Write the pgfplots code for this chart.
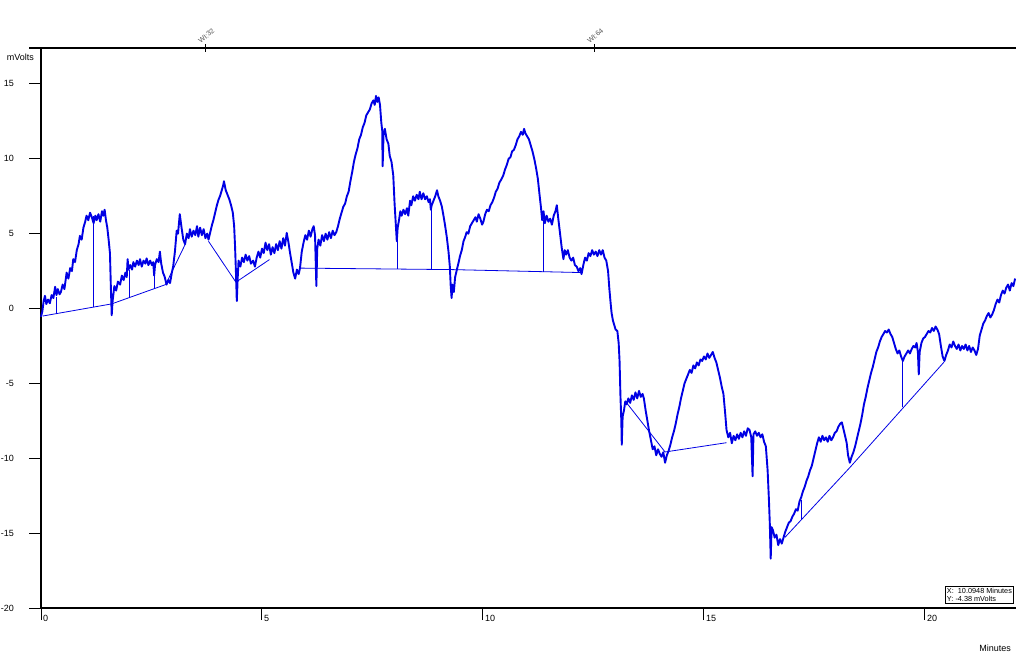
\documentclass[border=0pt]{standalone}
\usepackage{pgfplots}
\pgfplotsset{compat=1.18}
\usepackage{fontspec}
\setmainfont{Liberation Sans}
\definecolor{sig}{RGB}{0,0,228}
\definecolor{lbl}{RGB}{80,80,80}
\begin{document}
\begin{tikzpicture}
\path[use as bounding box] (0,0) rectangle (1016pt,656pt);
\begin{axis}[
  at={(41pt,48pt)}, anchor=south west,
  scale only axis, width=975pt, height=560pt,
  xmin=0, xmax=22.06, ymin=-20, ymax=17.4,
  clip=false,
  axis line style={draw=none},
  xtick={0,5,10,15,20}, ytick={-20,-15,-10,-5,0,5,10,15},
  extra x ticks={22.06}, extra x tick labels={},
  xtick pos=bottom, ytick pos=left,
  tick align=outside, major tick length=12pt,
  tick style={black, line width=1pt},
  minor tick num=0,
  /pgf/number format/assume math mode=true,
  ticklabel style={font=\fontsize{9}{10}\selectfont},
  xticklabel style={anchor=north west, inner sep=0pt, xshift=2pt, yshift=5pt},
  yticklabel style={anchor=east, inner sep=0pt, xshift=-15pt},
]
% axis frame
\draw[line width=1.2pt] (axis cs:0,-20) -- (axis cs:0,17.4);
\draw[line width=1.2pt] (axis cs:0,-20) -- (axis cs:22.06,-20);
\draw[line width=1.2pt] ([xshift=-12pt]axis cs:0,17.4) -- (axis cs:22.06,17.4);
% top event ticks
\draw[line width=0.8pt] ([yshift=-4pt]axis cs:3.71,17.4) -- ([yshift=4pt]axis cs:3.71,17.4);
\draw[line width=0.8pt] ([yshift=-4pt]axis cs:12.51,17.4) -- ([yshift=4pt]axis cs:12.51,17.4);
\node[anchor=south west, rotate=40, inner sep=0pt, text=lbl, font=\fontsize{7}{7}\selectfont] at ([xshift=-4pt,yshift=4pt]axis cs:3.71,17.4) {WI:32};
\node[anchor=south west, rotate=40, inner sep=0pt, text=lbl, font=\fontsize{7}{7}\selectfont] at ([xshift=-4pt,yshift=4pt]axis cs:12.51,17.4) {WI:64};
% axis titles
\node[anchor=east, inner sep=0pt, font=\fontsize{9}{10}\selectfont] at ([xshift=-7pt,yshift=-9pt]axis cs:0,17.4) {mVolts};
\node[anchor=east, inner sep=0pt, font=\fontsize{9}{10}\selectfont] at ([xshift=-5pt,yshift=-40pt]axis cs:22.06,-20) {Minutes};
% cursor box
\node[draw, line width=0.6pt, anchor=south east, align=left, inner sep=1.8pt, font=\fontsize{7.3}{8.5}\selectfont, fill=white] at ([xshift=-2pt,yshift=4pt]axis cs:22.06,-20) {X:\ \ 10.0948 Minutes\\Y: -4.38 mVolts};

% baselines
\addplot[sig, line width=0.8pt] coordinates {(0.04,-0.5) (1.6,0.31) (2.82,1.6) (3.26,4.27)};
\addplot[sig, line width=0.8pt] coordinates {(3.79,4.49) (4.41,1.76) (5.17,3.27)};
\addplot[sig, line width=0.8pt] coordinates {(5.86,2.7) (9.3,2.6) (12.26,2.4)};
\addplot[sig, line width=0.8pt] coordinates {(13.25,-6.3) (14.12,-9.58) (15.51,-8.96)};
\addplot[sig, line width=0.8pt] coordinates {(16.83,-15.29) (18.3,-10.62) (20.43,-3.58)};
% drop lines
\addplot[sig, line width=1pt] coordinates {(0.35,-0.32) (0.35,0.8)};
\addplot[sig, line width=1pt] coordinates {(1.18,0.12) (1.18,6.2)};
\addplot[sig, line width=1pt] coordinates {(2.0,0.73) (2.0,2.6)};
\addplot[sig, line width=1pt] coordinates {(2.56,1.33) (2.56,2.2)};
\addplot[sig, line width=1pt] coordinates {(8.06,2.67) (8.06,4.6)};
\addplot[sig, line width=1pt] coordinates {(8.84,2.63) (8.84,6.7)};
\addplot[sig, line width=1pt] coordinates {(11.36,2.45) (11.36,5.9)};
\addplot[sig, line width=1pt] coordinates {(17.21,-14.1) (17.21,-12.8)};
\addplot[sig, line width=1pt] coordinates {(19.49,-6.6) (19.49,-3.5)};

% signal
\addplot[sig, line width=1.9pt, line join=round] table {
0.00 -0.55
0.03 -0.2
0.06 0.5
0.09 0.85
0.12 0.3
0.16 0.6
0.20 0.35
0.24 0.9
0.28 0.7
0.32 1.45
0.35 0.9
0.38 1.3
0.42 0.95
0.45 1.1
0.49 1.6
0.53 1.3
0.58 2.4
0.62 2.0
0.66 2.7
0.70 2.5
0.73 3.3
0.77 3.1
0.81 3.9
0.85 4.3
0.88 4.85
0.92 4.6
0.96 5.4
1.00 5.8
1.03 6.2
1.07 5.9
1.11 6.4
1.15 6.1
1.19 5.7
1.23 6.2
1.26 5.9
1.30 6.3
1.34 5.8
1.38 6.5
1.41 6.2
1.44 6.6
1.47 5.9
1.50 5.4
1.53 4.6
1.56 3.7
1.58 1.5
1.60 -0.45
1.62 0.5
1.66 1.5
1.70 1.2
1.74 1.8
1.79 1.6
1.83 2.2
1.87 1.9
1.91 2.4
1.94 2.1
1.96 3.3
1.98 2.6
2.02 2.9
2.06 2.6
2.09 3.1
2.13 2.8
2.17 3.2
2.21 2.9
2.24 3.3
2.28 2.8
2.32 3.2
2.36 3.0
2.39 3.35
2.43 2.9
2.47 3.2
2.51 2.9
2.54 3.1
2.56 2.2
2.58 2.9
2.62 3.3
2.66 3.1
2.69 3.8
2.72 3.0
2.76 2.4
2.80 2.1
2.84 1.6
2.88 1.9
2.92 1.7
2.96 2.4
2.99 2.8
3.03 3.8
3.07 5.2
3.10 5.0
3.14 6.3
3.18 5.4
3.22 4.6
3.26 4.3
3.30 5.0
3.34 4.7
3.37 5.3
3.41 4.8
3.45 5.2
3.49 4.9
3.53 5.5
3.56 4.8
3.60 5.4
3.64 4.9
3.68 5.3
3.72 4.7
3.76 5.0
3.79 4.6
3.83 5.1
3.87 5.6
3.90 5.9
3.94 6.4
3.98 6.9
4.02 7.3
4.05 7.5
4.09 7.9
4.12 8.2
4.14 8.5
4.18 7.9
4.22 7.6
4.26 7.3
4.30 6.9
4.34 6.4
4.37 5.5
4.39 4.2
4.41 2.5
4.43 0.5
4.45 2.0
4.47 3.2
4.51 2.8
4.55 3.4
4.59 3.1
4.63 3.6
4.67 3.2
4.71 3.5
4.75 3.0
4.80 3.2
4.84 2.8
4.88 3.4
4.92 3.8
4.96 3.4
5.00 4.0
5.04 3.7
5.08 4.4
5.12 3.9
5.16 4.3
5.20 3.6
5.24 4.1
5.28 3.7
5.32 4.3
5.36 3.9
5.40 4.5
5.44 4.0
5.48 4.7
5.52 4.2
5.56 5.05
5.60 4.4
5.63 3.8
5.67 3.1
5.71 2.4
5.75 2.0
5.79 2.6
5.83 2.3
5.86 2.7
5.90 3.8
5.94 4.4
5.98 4.9
6.02 4.6
6.06 5.2
6.10 4.8
6.14 5.3
6.17 5.5
6.20 4.9
6.23 1.5
6.25 4.0
6.28 4.6
6.32 4.2
6.36 4.9
6.40 4.5
6.44 5.0
6.48 4.6
6.52 5.1
6.56 4.7
6.60 5.2
6.64 4.9
6.68 5.1
6.72 5.5
6.76 6.0
6.80 6.4
6.84 6.8
6.88 7.0
6.92 7.5
6.96 7.8
7.00 8.5
7.04 9.1
7.08 9.8
7.12 10.3
7.16 10.7
7.20 11.3
7.24 11.6
7.28 12.1
7.32 12.4
7.36 12.9
7.40 13.1
7.44 13.3
7.48 13.7
7.52 13.9
7.55 13.6
7.58 14.2
7.61 13.8
7.64 14.1
7.67 13.6
7.70 12.4
7.72 11.9
7.73 9.5
7.75 11.6
7.78 12.0
7.82 11.3
7.86 11.0
7.89 10.2
7.93 9.8
7.97 8.9
8.00 7.0
8.03 5.5
8.05 4.5
8.07 5.4
8.10 5.9
8.13 6.5
8.16 6.2
8.20 6.6
8.24 6.3
8.28 6.7
8.31 6.2
8.35 7.2
8.38 6.9
8.42 7.5
8.46 7.2
8.50 7.6
8.54 7.3
8.57 7.8
8.61 7.3
8.65 7.7
8.69 7.3
8.73 7.5
8.77 7.1
8.80 7.3
8.82 6.6
8.84 6.9
8.88 7.2
8.92 7.5
8.96 7.9
8.99 7.5
9.03 7.2
9.07 6.8
9.10 6.3
9.14 5.6
9.18 4.8
9.22 3.8
9.25 2.8
9.27 1.5
9.29 0.7
9.31 1.6
9.34 1.1
9.37 2.1
9.41 2.6
9.45 3.1
9.48 3.5
9.52 3.9
9.56 4.5
9.60 4.8
9.63 5.1
9.67 5.0
9.71 5.5
9.75 5.7
9.79 5.9
9.83 6.1
9.86 5.8
9.90 6.3
9.94 6.0
9.98 5.6
10.01 5.8
10.05 6.3
10.09 6.6
10.13 6.5
10.17 6.9
10.21 7.1
10.25 7.4
10.29 7.8
10.33 8.0
10.37 8.4
10.41 8.6
10.46 8.9
10.50 9.3
10.54 9.6
10.58 10.0
10.62 10.1
10.66 10.5
10.70 10.6
10.74 10.9
10.78 11.3
10.82 11.5
10.86 11.8
10.90 11.6
10.93 12.0
10.96 11.7
11.00 11.5
11.04 11.3
11.08 10.9
11.12 10.5
11.16 10.0
11.20 9.4
11.24 8.7
11.28 7.6
11.31 6.8
11.34 5.9
11.37 6.5
11.40 5.7
11.44 6.2
11.48 5.8
11.52 6.0
11.56 5.6
11.60 6.2
11.64 6.5
11.67 6.9
11.70 6.1
11.74 5.1
11.78 4.1
11.82 3.3
11.85 3.9
11.88 3.6
11.92 3.9
11.96 3.4
12.00 3.2
12.04 3.4
12.08 2.9
12.12 2.8
12.16 2.5
12.20 2.7
12.23 2.3
12.27 2.9
12.31 3.4
12.35 3.2
12.39 3.7
12.43 3.5
12.47 3.9
12.51 3.6
12.55 3.8
12.59 3.5
12.63 3.9
12.67 3.6
12.71 3.9
12.75 3.4
12.79 3.2
12.83 2.5
12.86 1.3
12.89 0.3
12.91 -0.3
12.94 -0.8
12.97 -1.1
13.00 -1.4
13.04 -1.5
13.07 -2.3
13.09 -3.5
13.11 -5.8
13.13 -7.5
13.14 -9.1
13.16 -7.2
13.19 -6.8
13.22 -6.2
13.25 -6.4
13.29 -6.0
13.33 -6.3
13.37 -5.8
13.41 -6.1
13.45 -5.6
13.49 -6.0
13.53 -5.5
13.57 -5.9
13.61 -5.7
13.64 -6.0
13.68 -6.8
13.72 -7.5
13.76 -8.2
13.80 -8.8
13.84 -9.4
13.88 -9.2
13.92 -9.8
13.96 -9.4
14.00 -9.7
14.04 -9.9
14.08 -9.6
14.12 -10.3
14.16 -9.8
14.20 -9.5
14.24 -9.1
14.28 -8.6
14.32 -8.2
14.36 -7.7
14.40 -7.1
14.44 -6.6
14.48 -6.0
14.52 -5.5
14.56 -5.0
14.60 -4.7
14.64 -4.4
14.68 -4.1
14.72 -4.3
14.76 -3.8
14.80 -4.0
14.84 -3.6
14.88 -3.8
14.92 -3.4
14.96 -3.5
15.00 -3.2
15.04 -3.4
15.08 -3.0
15.12 -3.3
15.16 -3.1
15.20 -2.9
15.24 -3.3
15.28 -3.6
15.32 -4.1
15.36 -4.6
15.40 -5.2
15.44 -5.7
15.48 -7.0
15.51 -8.1
15.55 -8.6
15.59 -8.3
15.63 -9.0
15.67 -8.5
15.71 -8.8
15.75 -8.4
15.79 -8.7
15.83 -8.3
15.87 -8.6
15.91 -8.2
15.95 -8.5
15.99 -8.0
16.03 -8.1
16.07 -8.6
16.10 -11.2
16.12 -8.4
16.16 -8.2
16.20 -8.5
16.24 -8.3
16.28 -8.6
16.32 -8.4
16.36 -8.9
16.40 -9.2
16.44 -10.8
16.47 -12.8
16.49 -14.4
16.51 -16.7
16.53 -14.6
16.56 -14.8
16.60 -15.3
16.64 -15.1
16.68 -15.8
16.72 -15.4
16.76 -15.7
16.80 -15.3
16.84 -14.9
16.88 -14.6
16.92 -14.3
16.96 -14.2
17.00 -13.9
17.04 -13.7
17.08 -13.4
17.12 -13.5
17.16 -12.9
17.20 -12.6
17.24 -12.2
17.28 -11.9
17.32 -11.5
17.36 -11.2
17.40 -10.8
17.44 -10.5
17.48 -10.0
17.52 -9.5
17.56 -9.0
17.60 -8.6
17.64 -8.9
17.68 -8.5
17.72 -8.8
17.76 -8.6
17.80 -8.9
17.84 -8.5
17.88 -8.8
17.92 -8.6
17.96 -8.3
18.00 -8.2
18.04 -7.9
18.08 -7.7
18.12 -7.6
18.16 -8.1
18.20 -8.6
18.23 -9.0
18.26 -9.8
18.30 -10.3
18.34 -9.9
18.38 -9.6
18.42 -9.2
18.46 -8.7
18.50 -8.2
18.54 -7.7
18.58 -7.1
18.62 -6.4
18.66 -5.9
18.70 -5.3
18.74 -4.8
18.78 -4.3
18.82 -3.9
18.86 -3.4
18.90 -2.9
18.94 -2.6
18.98 -2.2
19.02 -1.9
19.06 -1.7
19.10 -1.5
19.14 -1.6
19.18 -1.4
19.22 -1.7
19.26 -1.9
19.30 -2.3
19.34 -2.7
19.38 -3.0
19.42 -2.8
19.46 -3.2
19.50 -3.5
19.54 -3.2
19.58 -3.0
19.62 -2.8
19.66 -3.0
19.70 -2.7
19.74 -2.5
19.78 -2.6
19.81 -2.3
19.84 -2.9
19.86 -4.4
19.88 -2.9
19.92 -2.3
19.96 -2.0
20.00 -1.9
20.04 -1.7
20.08 -1.5
20.12 -1.6
20.16 -1.3
20.20 -1.5
20.24 -1.2
20.28 -1.4
20.32 -1.7
20.36 -2.5
20.40 -3.2
20.44 -3.5
20.48 -3.1
20.52 -2.8
20.56 -2.4
20.60 -2.6
20.64 -2.2
20.68 -2.5
20.72 -2.7
20.76 -2.4
20.80 -2.8
20.84 -2.5
20.88 -2.7
20.92 -2.4
20.96 -2.8
21.00 -2.5
21.04 -2.9
21.08 -2.6
21.12 -2.8
21.16 -3.1
21.20 -2.7
21.24 -1.8
21.28 -1.4
21.32 -1.0
21.36 -0.8
21.40 -0.5
21.44 -0.3
21.48 -0.6
21.52 -0.4
21.56 -0.1
21.60 0.3
21.64 0.6
21.68 0.4
21.72 0.9
21.76 1.2
21.80 1.0
21.84 1.4
21.88 1.6
21.92 1.2
21.96 1.7
22.00 1.5
22.04 2.0
};
\end{axis}
\end{tikzpicture}
\end{document}
